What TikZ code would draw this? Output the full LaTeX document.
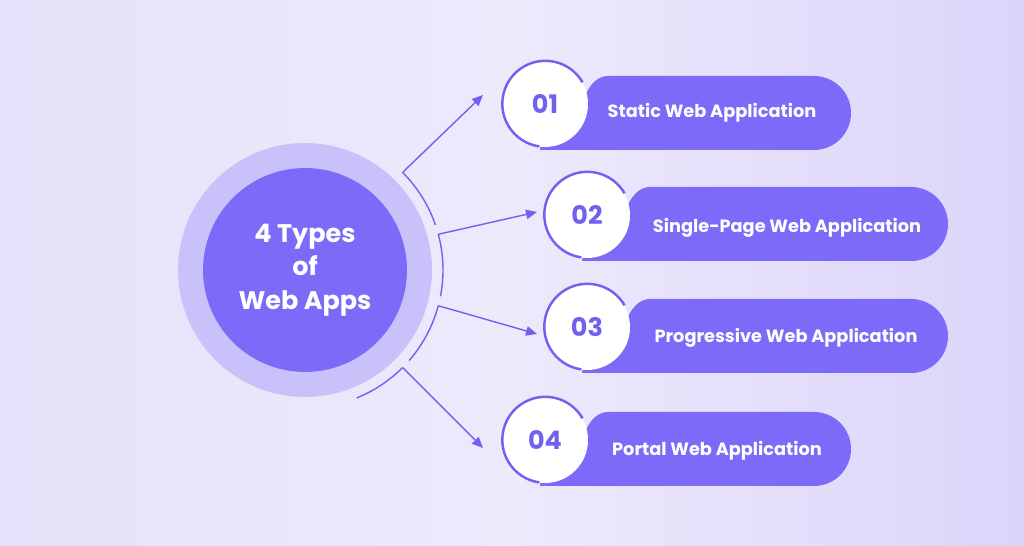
\documentclass[tikz,border=0pt]{standalone}
\usepackage{fontspec}
\setmainfont{Poppins}
\usepackage{tikz}
\usetikzlibrary{arrows.meta}
\definecolor{bgleft}{RGB}{229,225,250}
\definecolor{bgmid}{RGB}{237,234,252}
\definecolor{bgright}{RGB}{220,212,250}
\definecolor{violet}{RGB}{123,107,248}
\definecolor{lilac}{RGB}{201,194,250}
\definecolor{wire}{RGB}{112,98,238}
\tikzstyle{arrow} = [wire, line width=0.8pt, -{Triangle[length=2.2mm,width=1.9mm]}]
\tikzstyle{arcline} = [wire, line width=0.8pt]
\tikzstyle{pill} = [fill=violet]
\tikzstyle{numdot} = [circle, fill=white, inner sep=0pt, minimum size=1.72cm, text=wire, font=\fontsize{14.5}{17}\selectfont\bfseries]
\tikzstyle{numrim} = [wire, line width=1.4pt]
\tikzstyle{label} = [text=white, font=\fontsize{10.1}{12}\selectfont\bfseries]

\begin{document}
\begin{tikzpicture}[x=0.02cm, y=0.02cm]
        \useasboundingbox (0,0) rectangle (1024,-546);
        \shade [left color=bgleft, right color=bgright, middle color=bgmid] (0,0) rectangle (1024,-546);
        % hub
        \node [circle, fill=lilac, minimum size=5.08cm, inner sep=0pt] (ring) at (305,-270) {};
        \node [circle, fill=violet, minimum size=4.08cm, inner sep=0pt, text=white, align=center,
               font=\fontsize{14.5}{19}\selectfont\bfseries] (hub) at (305,-270) {4 Types\\of\\Web Apps};
        \path (hub.center) ++(45:138) coordinate (a1);
        \path (hub.center) ++(15:138) coordinate (a2);
        \path (hub.center) ++(-15:138) coordinate (a3);
        \path (hub.center) ++(-45:138) coordinate (a4);
        \draw [arcline] (a1) arc[start angle=45, end angle=19, radius=138];
        \draw [arcline] (a2) arc[start angle=15, end angle=-11, radius=138];
        \draw [arcline] (a3) arc[start angle=-15, end angle=-41, radius=138];
        \draw [arcline] (a4) arc[start angle=-45, end angle=-68, radius=138];
        \coordinate (e1) at (483,-95);
        \coordinate (e2) at (537,-212);
        \coordinate (e3) at (537,-334);
        \coordinate (e4) at (483,-448);
        \draw [arrow] (a1) -- (e1);
        \draw [arrow] (a2) -- (e2);
        \draw [arrow] (a3) -- (e3);
        \draw [arrow] (a4) -- (e4);
        % pills
        \fill [pill] (540,-150) -- (814,-150) arc[start angle=-90, end angle=90, radius=37] -- (608,-76)
              .. controls (598,-76) and (590,-84) .. (585,-96) -- (545,-104) -- cycle;
        \fill [pill] (582,-261) -- (911,-261) arc[start angle=-90, end angle=90, radius=37] -- (650,-187)
              .. controls (640,-187) and (632,-195) .. (627,-207) -- (587,-215) -- cycle;
        \fill [pill] (582,-373) -- (911,-373) arc[start angle=-90, end angle=90, radius=37] -- (650,-299)
              .. controls (640,-299) and (632,-307) .. (627,-319) -- (587,-327) -- cycle;
        \fill [pill] (540,-486) -- (814,-486) arc[start angle=-90, end angle=90, radius=37] -- (608,-412)
              .. controls (598,-412) and (590,-420) .. (585,-432) -- (545,-440) -- cycle;
        % numbers
        \node [numdot] (n1) at (545,-104) {01};
        \node [numdot] (n2) at (587,-215) {02};
        \node [numdot] (n3) at (587,-327) {03};
        \node [numdot] (n4) at (545,-440) {04};
        \draw [numrim] (n1.30) arc[start angle=30, end angle=262, radius=43];
        \draw [numrim] (n2.30) arc[start angle=30, end angle=262, radius=43];
        \draw [numrim] (n3.30) arc[start angle=30, end angle=262, radius=43];
        \draw [numrim] (n4.30) arc[start angle=30, end angle=262, radius=43];
        \node [label] (t1) at (712,-113) {Static Web Application};
        \node [label] (t2) at (787,-228) {Single-Page Web Application};
        \node [label] (t3) at (786,-338) {Progressive Web Application};
        \node [label] (t4) at (717,-451) {Portal Web Application};
\end{tikzpicture}
\end{document}
